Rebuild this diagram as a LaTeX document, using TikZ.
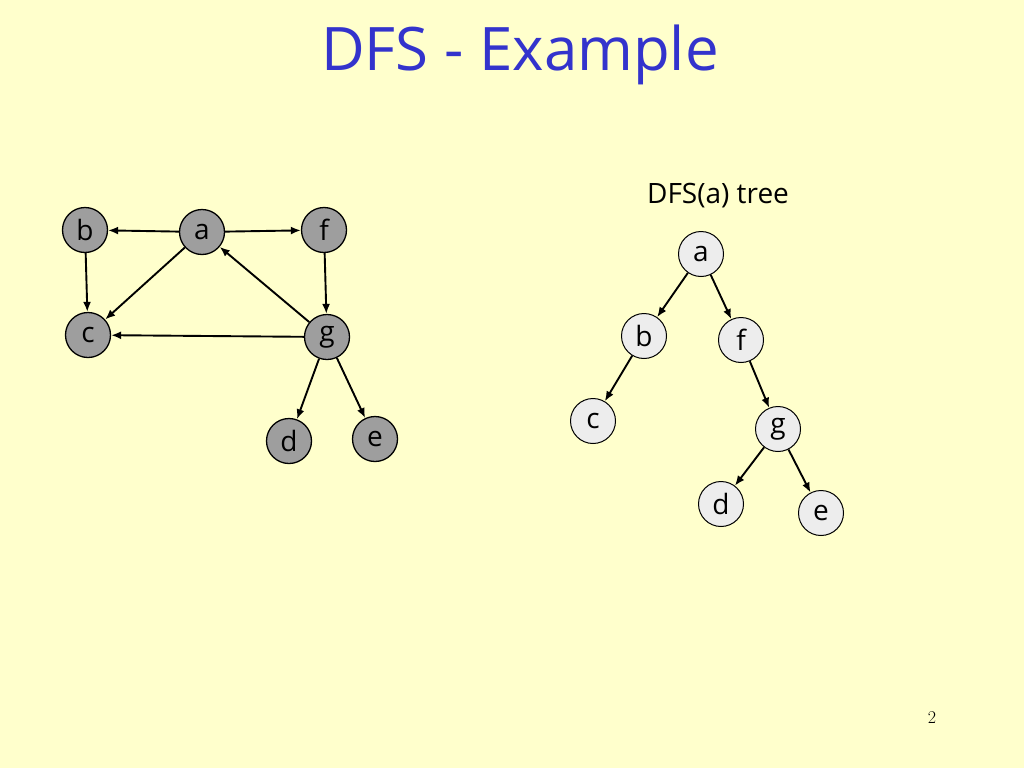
\documentclass[tikz,border=0pt]{standalone}
\usepackage{fontspec}
\setmainfont{Open Sans}
\usetikzlibrary{arrows.meta}

\definecolor{slidebg}{HTML}{FFFFCC}
\definecolor{titleblue}{HTML}{3333CC}

\begin{document}
\begin{tikzpicture}[x=1pt, y=-1pt, font=\fontsize{28}{32}\selectfont,
    gnode/.style={circle, draw=black, line width=1.3pt, fill=black!38,
      minimum size=45pt, inner sep=0pt},
    tnode/.style={circle, draw=black, line width=1pt, fill=black!7,
      minimum size=45pt, inner sep=0pt},
    edge/.style={-{Latex[length=10pt,width=8pt]}, line width=1.9pt}]
  \fill[slidebg] (0,0) rectangle (1024,768);

  \node[titleblue, font=\fontsize{60}{66}\selectfont] (title) at (520,55) {DFS - Example};

  % graph
  \node[gnode] (ga) at (202,232) {a};
  \node[gnode] (gb) at (85,230) {b};
  \node[gnode] (gf) at (324,230) {f};
  \node[gnode] (gc) at (88,335) {c};
  \node[gnode] (gg) at (327,337) {g};
  \node[gnode] (gd) at (289,441) {d};
  \node[gnode] (ge) at (375,439) {e};

  \draw[edge] (ga) -- (gb);
  \draw[edge] (ga) -- (gf);
  \draw[edge] (gb) -- (gc);
  \draw[edge] (ga) -- (gc);
  \draw[edge] (gf) -- (gg);
  \draw[edge] (gg) -- (ga);
  \draw[edge] (gg) -- (gc);
  \draw[edge] (gg) -- (gd);
  \draw[edge] (gg) -- (ge);

  % DFS tree
  \node[font=\fontsize{28}{30}\selectfont] (tlabel) at (718,196) {DFS(a) tree};
  \node[tnode] (ta) at (701,254) {a};
  \node[tnode] (tb) at (644,336) {b};
  \node[tnode] (tf) at (741,340) {f};
  \node[tnode] (tc) at (593,421) {c};
  \node[tnode] (tg) at (778,429) {g};
  \node[tnode] (td) at (721,504) {d};
  \node[tnode] (te) at (821,513) {e};

  \draw[edge] (ta) -- (tb);
  \draw[edge] (ta) -- (tf);
  \draw[edge] (tb) -- (tc);
  \draw[edge] (tf) -- (tg);
  \draw[edge] (tg) -- (td);
  \draw[edge] (tg) -- (te);

  \node[font=\fontfamily{lmr}\fontsize{18}{20}\selectfont] (pnum) at (932,718) {2};
\end{tikzpicture}
\end{document}
